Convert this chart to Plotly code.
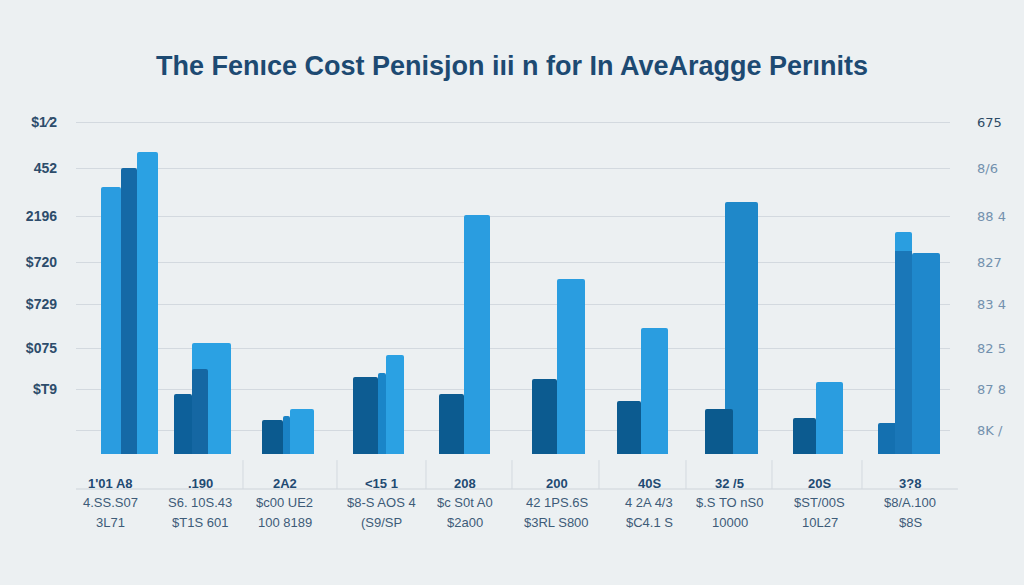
import plotly.graph_objects as go

# ---------------- data ----------------
categories = ["1'01 A8", ".190", "2A2", "<15 1", "208", "200", "40S", "32 /5", "20S", "3?8"]
row2_labels = ["4.SS.S07", "S6. 10S.43", "$c00 UE2", "$8-S AOS 4", "$c S0t A0",
               "42 1PS.6S", "4 2A 4/3", "$.S TO nS0", "$ST/00S", "$8/A.100"]
row3_labels = ["3L71", "$T1S 601", "100 8189", "(S9/SP", "$2a00",
               "$3RL S800", "$C4.1 S", "10000", "10L27", "$8S"]

left_vals = [267, 60, 34, 77, 60, 75, 53, 45, 36, 31]
mid_vals = [286, 85, 38, 81, None, None, None, None, None, 203]
right_vals = [302, 111, 45, 99, 239, 175, 126, 252, 72, 201]
peak_vals = [None, None, None, None, None, None, None, None, None, 222]

grid_vals = [24, 65, 106, 150, 192, 238, 286, 332]
left_ticks = ["", "$T9", "$075", "$729", "$720", "2196", "452", "$1⁄2"]
right_ticks = ["8K /", "87 8", "82 5", "83 4", "827", "88 4", "8/6",
               "<span style='color:#2c4a66'>675</span>"]

title_text = "The Fenıce Cost Penisjon iıi n for In AveAragge Perınits"

# ---------------- styles ----------------
W, H = 1024, 585
ML, MR, MT, MB = 76, 74, 114, 131
unit = (W - ML - MR) / len(categories)  # px per category

left_off = [-18.7, -33.1, -32.5, -28.9, -30.3, -24.7, -27.1, -26.5, -25.9, -28.3]
left_w = [20, 18, 21, 25, 25, 25, 24, 28, 23, 34]
mid_off = [1.3, -15.1, -11.5, -3.9, 0, 0, 0, 0, 0, -11.3]
mid_w = [16, 16, 7, 8, 1, 1, 1, 1, 1, 17]
right_off = [17.3, -15.1, -4.5, 4.1, -5.3, 0.3, -3.1, -6.5, -2.9, 5.7]
right_w = [21, 39, 24, 18, 26, 28, 27, 33, 27, 28]
peak_off = [0] * 9 + [-11.3]
peak_w = [1] * 9 + [17]

left_colors = ["#2a9ce0", "#0d609a", "#0b5a8f", "#0d5c92", "#0c5b90",
               "#0c5b90", "#0c5b90", "#0b5a8e", "#0c5b90", "#1470b0"]
mid_colors = ["#1569a6", "#1567a3", "#1a82c5", "#1a85c8", "#1567a3",
              "#1567a3", "#1567a3", "#1567a3", "#1567a3", "#1a77b8"]
right_colors = ["#2ba1e3", "#2ba1e3", "#2ba1e3", "#2ba1e3", "#2a9de0",
                "#2a9de0", "#2a9de0", "#1f88c9", "#2a9de0", "#1f88cc"]
peak_colors = ["#2a9ee0"] * 10

label_shift = [-9, -7, -10, 0, -4, 0, 5, -2, 1, 4]

BG = "#ecf0f2"
GRID = "#d3d9df"


def px(lst):
    return [v / unit for v in lst]


fig = go.Figure()

for vals, offs, wids, cols in [
    (peak_vals, peak_off, peak_w, peak_colors),
    (right_vals, right_off, right_w, right_colors),
    (left_vals, left_off, left_w, left_colors),
    (mid_vals, mid_off, mid_w, mid_colors),
]:
    fig.add_trace(go.Bar(
        x=categories, y=vals,
        offset=px(offs), width=px(wids),
        marker=dict(color=cols, line=dict(width=0), cornerradius=2),
        hoverinfo="skip", showlegend=False,
    ))

# invisible trace to show right axis
fig.add_trace(go.Scatter(x=[categories[0]], y=[None], yaxis="y2",
                         mode="markers", showlegend=False, hoverinfo="skip"))

annotations = []
for i, cat in enumerate(categories):
    for txt, yy, bold, col in [
        (cat, -0.088, True, "#1f4a72"),
        (row2_labels[i], -0.143, False, "#3d5b78"),
        (row3_labels[i], -0.200, False, "#3d5b78"),
    ]:
        annotations.append(dict(
            x=i, y=yy, xref="x", yref="paper", text=txt, showarrow=False,
            xshift=label_shift[i], yanchor="middle", xanchor="center",
            font=dict(family="Liberation Sans", size=13, color=col,
                      weight="bold" if bold else "normal"),
        ))

shapes = [dict(type="line", xref="paper", yref="paper",
               x0=0.0, x1=1.009, y0=-0.103, y1=-0.103,
               line=dict(color="#cdd4da", width=1.2))]
for xp in [243, 337, 426, 512, 599, 686, 772, 862]:
    xx = (xp - ML) / (W - ML - MR)
    shapes.append(dict(type="line", xref="paper", yref="paper",
                       x0=xx, x1=xx, y0=-0.018, y1=-0.103,
                       line=dict(color="#d3d9df", width=1)))

fig.update_layout(
    width=W, height=H,
    margin=dict(l=ML, r=MR, t=MT, b=MB),
    paper_bgcolor=BG, plot_bgcolor=BG,
    barmode="overlay",
    title=dict(text=title_text, x=0.5, xanchor="center", y=1 - 66 / H,
               yanchor="middle", yref="container",
               font=dict(family="Liberation Sans", size=27, color="#1d4a72",
                         weight="bold")),
    xaxis=dict(type="category", range=[-0.5, len(categories) - 0.5],
               showticklabels=False, showgrid=False, zeroline=False,
               showline=False, ticks=""),
    yaxis=dict(range=[0, 340], tickvals=grid_vals, ticktext=left_ticks,
               showgrid=True, gridcolor=GRID, gridwidth=1, zeroline=False,
               showline=False, ticks="", ticklabelstandoff=18,
               tickfont=dict(family="Liberation Sans", size=14,
                             color="#2d4c6b", weight="bold")),
    yaxis2=dict(range=[0, 340], tickvals=grid_vals, ticktext=right_ticks,
                overlaying="y", side="right", showgrid=False, zeroline=False,
                showline=False, ticks="", ticklabelstandoff=26,
                tickfont=dict(family="DejaVu Sans", size=13, color="#7391ae")),
    annotations=annotations,
    shapes=shapes,
)

fig.write_html("out.html",
               config={"displayModeBar": False},
               post_script="document.body.style.margin='0';"
                           "document.body.style.background='" + BG + "';")
